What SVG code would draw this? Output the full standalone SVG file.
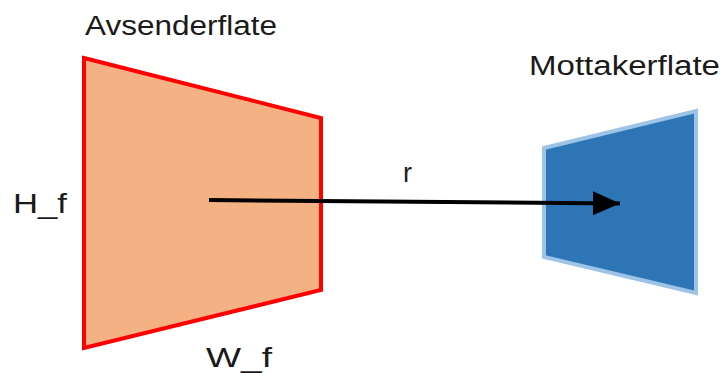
<svg xmlns="http://www.w3.org/2000/svg" width="724" height="373" viewBox="0 0 724 373">
<style>
text{font-family:"Liberation Sans","Open Sans",sans-serif;font-size:27px;fill:#1a1a1a}
</style>
<defs>
<marker id="ah" viewBox="0 0 27 24" refX="27" refY="12" markerWidth="27" markerHeight="24" markerUnits="userSpaceOnUse" orient="auto">
<path d="M0,0 L27,12 L0,24 Z" fill="#000"/>
</marker>
</defs>
<rect width="724" height="373" fill="#fff"/>
<g id="avsender">
<polygon points="84,58 321,118 321,290 84,348" fill="#F4B183" stroke="#FF0000" stroke-width="4"/>
<text x="85" y="35" textLength="192" lengthAdjust="spacingAndGlyphs">Avsenderflate</text>
</g>
<g id="mottaker">
<polygon points="544,148 696,111 696,293 544,257" fill="#2E75B6" stroke="#9DC3E6" stroke-width="4"/>
<text x="529" y="75" textLength="191" lengthAdjust="spacingAndGlyphs">Mottakerflate</text>
</g>
<g id="labels">
<text x="13" y="213" textLength="54" lengthAdjust="spacingAndGlyphs">H_f</text>
<text x="206" y="367" textLength="66" lengthAdjust="spacingAndGlyphs">W_f</text>
<text x="403" y="182">r</text>
</g>
<g id="connectors">
<line x1="209" y1="200" x2="620" y2="203.5" stroke="#000" stroke-width="4" marker-end="url(#ah)"/>
</g>
</svg>
